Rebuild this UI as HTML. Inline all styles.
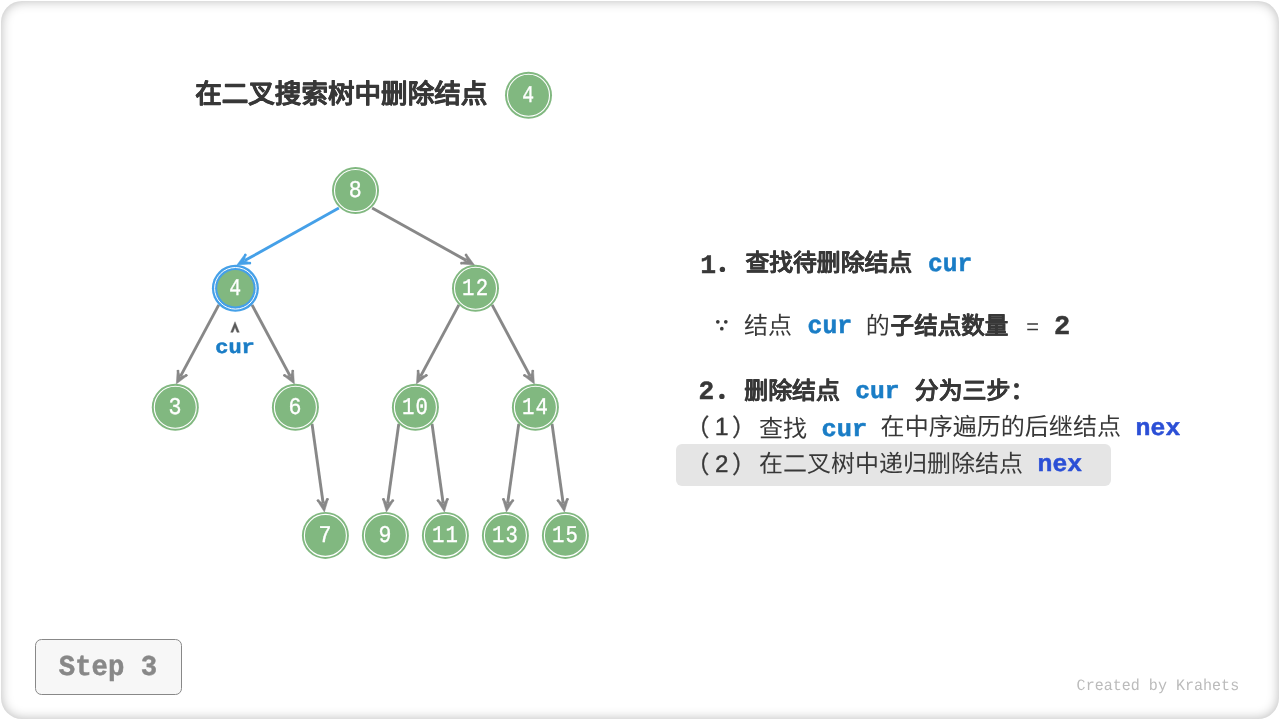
<!DOCTYPE html>
<html lang="zh-CN"><head><meta charset="utf-8"><style>
html,body{margin:0;padding:0;background:#fff;width:1280px;height:720px;overflow:hidden}
.card{position:absolute;left:1px;top:1px;width:1278px;height:718px;border-radius:21px;box-shadow:inset 0 0 12px rgba(0,0,0,0.28);background:#fff}
svg{position:absolute;left:0;top:0;will-change:transform}
text{font-family:"Liberation Sans",sans-serif;text-rendering:geometricPrecision}
.nd{font-family:"Liberation Mono",monospace;font-size:24px;fill:#fff;stroke:#fff;stroke-width:0.35px}
</style></head><body>
<div class="card"></div>
<svg width="1280" height="720" viewBox="0 0 1280 720">
<line x1="338.88" y1="207.92" x2="244.75" y2="260.60" stroke="#45a0e8" stroke-width="2.9"/><path d="M236.90,265.00L245.17,253.66L245.61,256.29L244.32,260.85L248.87,262.13L250.89,263.88Z" fill="#45a0e8" stroke="#45a0e8" stroke-width="0.5" stroke-linejoin="round"/><circle cx="245.39" cy="254.98" r="1.35" fill="#45a0e8"/><circle cx="249.88" cy="263.01" r="1.35" fill="#45a0e8"/><line x1="372.12" y1="207.92" x2="466.64" y2="260.62" stroke="#888888" stroke-width="2.9"/><path d="M474.50,265.00L460.51,263.91L462.52,262.15L467.08,260.86L465.78,256.31L466.22,253.68Z" fill="#888888" stroke="#888888" stroke-width="0.5" stroke-linejoin="round"/><circle cx="461.52" cy="263.03" r="1.35" fill="#888888"/><circle cx="466.00" cy="254.99" r="1.35" fill="#888888"/><line x1="218.78" y1="304.92" x2="180.56" y2="376.07" stroke="#888888" stroke-width="2.9"/><path d="M176.30,384.00L177.18,370.00L178.96,371.98L180.32,376.51L184.85,375.14L187.49,375.54Z" fill="#888888" stroke="#888888" stroke-width="0.5" stroke-linejoin="round"/><circle cx="178.07" cy="370.99" r="1.35" fill="#888888"/><circle cx="186.17" cy="375.34" r="1.35" fill="#888888"/><line x1="252.02" y1="304.92" x2="290.15" y2="376.07" stroke="#888888" stroke-width="2.9"/><path d="M294.40,384.00L283.22,375.53L285.85,375.14L290.38,376.51L291.75,371.98L293.54,370.00Z" fill="#888888" stroke="#888888" stroke-width="0.5" stroke-linejoin="round"/><circle cx="284.54" cy="375.33" r="1.35" fill="#888888"/><circle cx="292.64" cy="370.99" r="1.35" fill="#888888"/><line x1="458.88" y1="304.92" x2="420.66" y2="376.07" stroke="#888888" stroke-width="2.9"/><path d="M416.40,384.00L417.28,370.00L419.06,371.98L420.42,376.51L424.95,375.14L427.59,375.54Z" fill="#888888" stroke="#888888" stroke-width="0.5" stroke-linejoin="round"/><circle cx="418.17" cy="370.99" r="1.35" fill="#888888"/><circle cx="426.27" cy="375.34" r="1.35" fill="#888888"/><line x1="492.12" y1="304.92" x2="530.16" y2="376.06" stroke="#888888" stroke-width="2.9"/><path d="M534.40,384.00L523.22,375.52L525.86,375.13L530.39,376.50L531.76,371.97L533.55,370.00Z" fill="#888888" stroke="#888888" stroke-width="0.5" stroke-linejoin="round"/><circle cx="524.54" cy="375.32" r="1.35" fill="#888888"/><circle cx="532.66" cy="370.98" r="1.35" fill="#888888"/><line x1="312.02" y1="423.92" x2="323.15" y2="503.19" stroke="#888888" stroke-width="2.9"/><path d="M324.40,512.10L316.83,500.29L319.44,500.83L323.22,503.68L326.06,499.90L328.43,498.66Z" fill="#888888" stroke="#888888" stroke-width="0.5" stroke-linejoin="round"/><circle cx="318.13" cy="500.56" r="1.35" fill="#888888"/><circle cx="327.24" cy="499.28" r="1.35" fill="#888888"/><line x1="398.78" y1="423.92" x2="387.65" y2="503.19" stroke="#888888" stroke-width="2.9"/><path d="M386.40,512.10L382.37,498.66L384.74,499.90L387.58,503.68L391.36,500.83L393.97,500.29Z" fill="#888888" stroke="#888888" stroke-width="0.5" stroke-linejoin="round"/><circle cx="383.56" cy="499.28" r="1.35" fill="#888888"/><circle cx="392.67" cy="500.56" r="1.35" fill="#888888"/><line x1="432.02" y1="423.92" x2="443.15" y2="503.19" stroke="#888888" stroke-width="2.9"/><path d="M444.40,512.10L436.83,500.29L439.44,500.83L443.22,503.68L446.06,499.90L448.43,498.66Z" fill="#888888" stroke="#888888" stroke-width="0.5" stroke-linejoin="round"/><circle cx="438.13" cy="500.56" r="1.35" fill="#888888"/><circle cx="447.24" cy="499.28" r="1.35" fill="#888888"/><line x1="518.78" y1="423.92" x2="507.65" y2="503.19" stroke="#888888" stroke-width="2.9"/><path d="M506.40,512.10L502.37,498.66L504.74,499.90L507.58,503.68L511.36,500.83L513.97,500.29Z" fill="#888888" stroke="#888888" stroke-width="0.5" stroke-linejoin="round"/><circle cx="503.56" cy="499.28" r="1.35" fill="#888888"/><circle cx="512.67" cy="500.56" r="1.35" fill="#888888"/><line x1="552.02" y1="423.92" x2="563.15" y2="503.19" stroke="#888888" stroke-width="2.9"/><path d="M564.40,512.10L556.83,500.29L559.44,500.83L563.22,503.68L566.06,499.90L568.43,498.66Z" fill="#888888" stroke="#888888" stroke-width="0.5" stroke-linejoin="round"/><circle cx="558.13" cy="500.56" r="1.35" fill="#888888"/><circle cx="567.24" cy="499.28" r="1.35" fill="#888888"/><circle cx="355.5" cy="190.5" r="23.5" fill="#81b880"/><circle cx="355.5" cy="190.5" r="21.0" fill="none" stroke="#fff" stroke-width="1.1"/><text x="355.2" y="196.9" text-anchor="middle" class="nd" transform="matrix(0.9,0,0,1,35.520,0)">8</text><circle cx="235.4" cy="288.3" r="23.5" fill="#45a0e8"/><circle cx="235.4" cy="288.3" r="20.8" fill="none" stroke="#fff" stroke-width="1.0"/><circle cx="235.4" cy="288.3" r="18.2" fill="#81b880"/><text x="235.1" y="294.7" text-anchor="middle" class="nd" transform="matrix(0.82,0,0,1,42.318,0)">4</text><circle cx="475.5" cy="288.3" r="23.5" fill="#81b880"/><circle cx="475.5" cy="288.3" r="21.0" fill="none" stroke="#fff" stroke-width="1.1"/><text x="475.7" y="294.7" text-anchor="middle" class="nd" letter-spacing="1.4" transform="matrix(0.86,0,0,1,66.598,0)">12</text><circle cx="175.3" cy="407.3" r="23.5" fill="#81b880"/><circle cx="175.3" cy="407.3" r="21.0" fill="none" stroke="#fff" stroke-width="1.1"/><text x="175.0" y="413.7" text-anchor="middle" class="nd" transform="matrix(0.9,0,0,1,17.500,0)">3</text><circle cx="295.4" cy="407.3" r="23.5" fill="#81b880"/><circle cx="295.4" cy="407.3" r="21.0" fill="none" stroke="#fff" stroke-width="1.1"/><text x="295.09999999999997" y="413.7" text-anchor="middle" class="nd" transform="matrix(0.9,0,0,1,29.510,0)">6</text><circle cx="415.4" cy="407.3" r="23.5" fill="#81b880"/><circle cx="415.4" cy="407.3" r="21.0" fill="none" stroke="#fff" stroke-width="1.1"/><text x="415.59999999999997" y="413.7" text-anchor="middle" class="nd" letter-spacing="1.4" transform="matrix(0.86,0,0,1,58.184,0)">10</text><circle cx="535.4" cy="407.3" r="23.5" fill="#81b880"/><circle cx="535.4" cy="407.3" r="21.0" fill="none" stroke="#fff" stroke-width="1.1"/><text x="535.6" y="413.7" text-anchor="middle" class="nd" letter-spacing="1.4" transform="matrix(0.86,0,0,1,74.984,0)">14</text><circle cx="325.4" cy="535.4" r="23.5" fill="#81b880"/><circle cx="325.4" cy="535.4" r="21.0" fill="none" stroke="#fff" stroke-width="1.1"/><text x="325.09999999999997" y="541.8" text-anchor="middle" class="nd" transform="matrix(0.9,0,0,1,32.510,0)">7</text><circle cx="385.4" cy="535.4" r="23.5" fill="#81b880"/><circle cx="385.4" cy="535.4" r="21.0" fill="none" stroke="#fff" stroke-width="1.1"/><text x="385.09999999999997" y="541.8" text-anchor="middle" class="nd" transform="matrix(0.9,0,0,1,38.510,0)">9</text><circle cx="445.4" cy="535.4" r="23.5" fill="#81b880"/><circle cx="445.4" cy="535.4" r="21.0" fill="none" stroke="#fff" stroke-width="1.1"/><text x="445.59999999999997" y="541.8" text-anchor="middle" class="nd" letter-spacing="1.4" transform="matrix(0.86,0,0,1,62.384,0)">11</text><circle cx="505.4" cy="535.4" r="23.5" fill="#81b880"/><circle cx="505.4" cy="535.4" r="21.0" fill="none" stroke="#fff" stroke-width="1.1"/><text x="505.59999999999997" y="541.8" text-anchor="middle" class="nd" letter-spacing="1.4" transform="matrix(0.86,0,0,1,70.784,0)">13</text><circle cx="565.4" cy="535.4" r="23.5" fill="#81b880"/><circle cx="565.4" cy="535.4" r="21.0" fill="none" stroke="#fff" stroke-width="1.1"/><text x="565.6" y="541.8" text-anchor="middle" class="nd" letter-spacing="1.4" transform="matrix(0.86,0,0,1,79.184,0)">15</text><circle cx="528.5" cy="95.3" r="23.5" fill="#81b880"/><circle cx="528.5" cy="95.3" r="21.0" fill="none" stroke="#fff" stroke-width="1.1"/><text x="528.2" y="101.7" text-anchor="middle" class="nd" transform="matrix(0.82,0,0,1,95.076,0)">4</text>
<path d="M235,321.7 L239.3,332.3 L237.0,332.3 L235,327.2 L233.0,332.3 L230.7,332.3 Z" fill="#5a5a5a" stroke="#5a5a5a" stroke-width="0.4" stroke-linejoin="round"/>
<circle cx="722.4" cy="269.4" r="2.7" fill="#383838"/><circle cx="721.9" cy="396.4" r="2.7" fill="#383838"/>
<circle cx="717.8" cy="321.8" r="1.85" fill="#383838"/><circle cx="725.8" cy="321.8" r="1.85" fill="#383838"/><circle cx="721.8" cy="328.7" r="1.85" fill="#383838"/>
<rect x="676" y="444" width="435" height="42" rx="6" fill="#e5e5e5"/>
<rect x="35.5" y="639.5" width="146" height="55" rx="6" fill="#f7f7f7" stroke="#888" stroke-width="1"/>
<text x="195.2" y="102.6" transform="matrix(0.9952,0,0,1,0.937,0)" style="font-family:'Liberation Sans',sans-serif;font-size:26.7px;font-weight:bold;fill:#383838;stroke:#383838;stroke-width:0.4px;stroke-linejoin:round">在二叉搜索树中删除结点</text>
<text x="700.2" y="272.6" style="font-family:'Liberation Mono',monospace;font-size:26.4px;font-weight:bold;fill:#383838;stroke:#383838;stroke-width:0.5px;stroke-linejoin:round">1</text>
<text x="745.4" y="271.4" transform="matrix(0.9928,0,0,1,5.367,0)" style="font-family:'Liberation Sans',sans-serif;font-size:24px;font-weight:bold;fill:#383838;stroke:#383838;stroke-width:0.15px;stroke-linejoin:round">查找待删除结点</text>
<text x="928.0" y="271.0" transform="matrix(0.9816,0,0,1,17.075,0)" style="font-family:'Liberation Mono',monospace;font-size:25.03px;font-weight:bold;fill:#1a7dc6;stroke:#1a7dc6;stroke-width:0.5px;stroke-linejoin:round">cur</text>
<text x="744.0" y="334.2" style="font-family:'Liberation Sans',sans-serif;font-size:24px;font-weight:normal;fill:#383838">结点</text>
<text x="807.6" y="333.0" transform="matrix(0.9907,0,0,1,7.511,0)" style="font-family:'Liberation Mono',monospace;font-size:25.03px;font-weight:bold;fill:#1a7dc6;stroke:#1a7dc6;stroke-width:0.5px;stroke-linejoin:round">cur</text>
<text x="865.8" y="334" style="font-family:'Liberation Sans',sans-serif;font-size:24px;font-weight:normal;fill:#383838">的</text>
<text x="890.6" y="334" transform="matrix(0.9816,0,0,1,16.387,0)" style="font-family:'Liberation Sans',sans-serif;font-size:24px;font-weight:bold;fill:#383838;stroke:#383838;stroke-width:0.15px;stroke-linejoin:round">子结点数量</text>
<text x="1026.0" y="334.0" style="font-family:'Liberation Mono',monospace;font-size:22px;font-weight:normal;fill:#383838">=</text>
<text x="1054.0" y="334.4" style="font-family:'Liberation Mono',monospace;font-size:27.0px;font-weight:bold;fill:#383838;stroke:#383838;stroke-width:0.5px;stroke-linejoin:round">2</text>
<text x="698.6" y="399.3" style="font-family:'Liberation Mono',monospace;font-size:26.11px;font-weight:bold;fill:#383838;stroke:#383838;stroke-width:0.5px;stroke-linejoin:round">2</text>
<text x="744.2" y="398.6" transform="matrix(0.998,0,0,1,1.488,0)" style="font-family:'Liberation Sans',sans-serif;font-size:24px;font-weight:bold;fill:#383838;stroke:#383838;stroke-width:0.15px;stroke-linejoin:round">删除结点</text>
<text x="855.2" y="397.7" transform="matrix(1.0146,0,0,1,-12.486,0)" style="font-family:'Liberation Mono',monospace;font-size:24.34px;font-weight:bold;fill:#1a7dc6;stroke:#1a7dc6;stroke-width:0.5px;stroke-linejoin:round">cur</text>
<text x="914.8" y="399" transform="matrix(0.9961,0,0,1,3.568,0)" style="font-family:'Liberation Sans',sans-serif;font-size:24px;font-weight:bold;fill:#383838;stroke:#383838;stroke-width:0.15px;stroke-linejoin:round">分为三步：</text>
<text x="685.6" y="435.8" style="font-family:'Liberation Sans',sans-serif;font-size:24px;font-weight:normal;fill:#383838;stroke:#383838;stroke-width:0.3px;stroke-linejoin:round">（</text>
<text x="714.8" y="435.4" style="font-family:'Liberation Sans',sans-serif;font-size:24.93px;font-weight:normal;fill:#383838;stroke:#383838;stroke-width:0.4px;stroke-linejoin:round">1</text>
<text x="732.0" y="436.3" style="font-family:'Liberation Sans',sans-serif;font-size:24px;font-weight:normal;fill:#383838;stroke:#383838;stroke-width:0.3px;stroke-linejoin:round">）</text>
<text x="759.0" y="436.6" style="font-family:'Liberation Sans',sans-serif;font-size:24px;font-weight:normal;fill:#383838">查找</text>
<text x="821.6" y="436" transform="matrix(1.0589,0,0,1,-48.392,0)" style="font-family:'Liberation Mono',monospace;font-size:24px;font-weight:bold;fill:#1a7dc6;stroke:#1a7dc6;stroke-width:0.5px;stroke-linejoin:round">cur</text>
<text x="880.6" y="435.4" transform="matrix(1.0016,0,0,1,-1.409,0)" style="font-family:'Liberation Sans',sans-serif;font-size:24px;font-weight:normal;fill:#383838">在中序遍历的后继结点</text>
<text x="1135.6" y="434.5" transform="matrix(1.0342,0,0,1,-38.838,0)" style="font-family:'Liberation Mono',monospace;font-size:24.03px;font-weight:bold;fill:#2b4fd6;stroke:#2b4fd6;stroke-width:0.5px;stroke-linejoin:round">nex</text>
<text x="685.6" y="472.8" style="font-family:'Liberation Sans',sans-serif;font-size:24px;font-weight:normal;fill:#383838;stroke:#383838;stroke-width:0.3px;stroke-linejoin:round">（</text>
<text x="715.0" y="472.2" style="font-family:'Liberation Sans',sans-serif;font-size:24.11px;font-weight:normal;fill:#383838;stroke:#383838;stroke-width:0.4px;stroke-linejoin:round">2</text>
<text x="732.0" y="473.3" style="font-family:'Liberation Sans',sans-serif;font-size:24px;font-weight:normal;fill:#383838;stroke:#383838;stroke-width:0.3px;stroke-linejoin:round">）</text>
<text x="759.0" y="472.4" style="font-family:'Liberation Sans',sans-serif;font-size:24px;font-weight:normal;fill:#383838">在二叉树中递归删除结点</text>
<text x="1037.6" y="471.0" transform="matrix(1.0334,0,0,1,-34.656,0)" style="font-family:'Liberation Mono',monospace;font-size:24.0px;font-weight:bold;fill:#2b4fd6;stroke:#2b4fd6;stroke-width:0.5px;stroke-linejoin:round">nex</text>
<text x="215.2" y="352.7" transform="matrix(1.1178,0,0,1,-25.351,0)" style="font-family:'Liberation Mono',monospace;font-size:19.7px;font-weight:bold;fill:#1a7dc6;stroke:#1a7dc6;stroke-width:0.5px;stroke-linejoin:round">cur</text>
<text x="58.8" y="674.7" transform="matrix(0.9496,0,0,1,2.964,0)" style="font-family:'Liberation Mono',monospace;font-size:28.8px;font-weight:bold;fill:#888888;stroke:#888888;stroke-width:0.5px;stroke-linejoin:round">Step 3</text>
<text x="1076.6" y="689.6" transform="matrix(0.9491,0,0,1,54.799,0)" style="font-family:'Liberation Mono',monospace;font-size:15.87px;font-weight:normal;fill:#bbbbbb">Created by Krahets</text>
</svg>
</body></html>
